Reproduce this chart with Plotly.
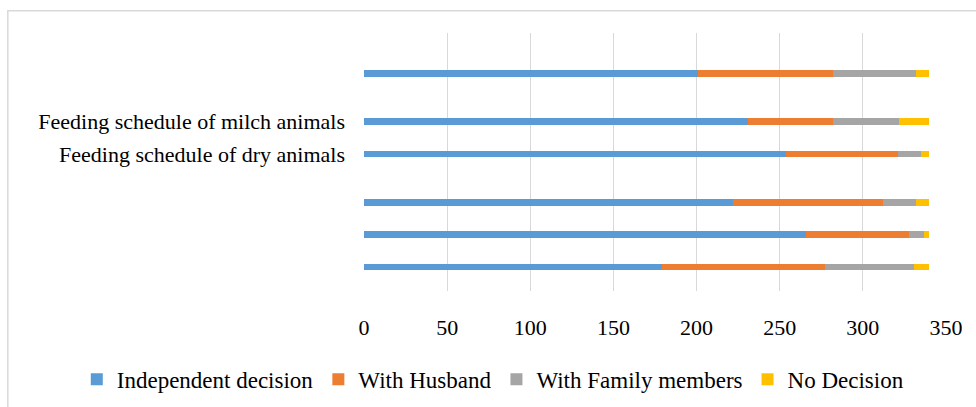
import plotly.graph_objects as go

# Rows from bottom to top, as in the source sheet (blank rows kept as None)
row_ids = [f"r{i}" for i in range(16)]
row_labels = ["", "", "", "", "", "", "", "", "Feeding schedule of dry animals", "",
              "Feeding schedule of milch animals", "", "", "", "", ""]
independent = [None, 179, None, 266, None, 222, None, None, 254, None, 231, None, None, 201, None, None]
with_husband = [None, 98, None, 62, None, 90, None, None, 67, None, 51, None, None, 81, None, None]
with_family = [None, 54, None, 9, None, 20, None, None, 14, None, 40, None, None, 50, None, None]
no_decision = [None, 9, None, 3, None, 8, None, None, 5, None, 18, None, None, 8, None, None]

series = [
    ("Independent decision", independent, "#5B9BD5"),
    ("With Husband", with_husband, "#ED7D31"),
    ("With Family members", with_family, "#A5A5A5"),
    ("No Decision", no_decision, "#FFC000"),
]
x_ticks = [0, 50, 100, 150, 200, 250, 300, 350]

font_family = "Liberation Serif, Times New Roman, serif"

fig = go.Figure()
for name, vals, color in series:
    fig.add_trace(go.Bar(
        y=row_ids, x=vals, name=name, orientation="h",
        marker=dict(color=color, line=dict(width=0)),
        width=0.4,
    ))

fig.update_layout(
    barmode="stack",
    width=976, height=407,
    margin=dict(l=364, r=29.5, t=32.5, b=115.5, autoexpand=False),
    paper_bgcolor="white", plot_bgcolor="white",
    font=dict(family=font_family, size=22, color="#000000"),
    showlegend=True,
    legend=dict(orientation="h", xref="paper", yref="paper",
                x=-0.4935, xanchor="left", y=-0.342, yanchor="middle",
                font=dict(family=font_family, size=23, color="#000000"),
                traceorder="normal", bgcolor="rgba(0,0,0,0)"),
    xaxis=dict(range=[0, 350], tickvals=x_ticks, ticktext=[str(v) for v in x_ticks],
               showgrid=True, gridcolor="#D9D9D9", gridwidth=1,
               zeroline=False, showline=False, ticks="",
               ticklabelstandoff=21),
    yaxis=dict(type="category", categoryorder="array", categoryarray=row_ids,
               tickvals=row_ids, ticktext=row_labels,
               showgrid=False, zeroline=False, showline=False, ticks="",
               ticklabelstandoff=18),
    shapes=[dict(type="rect", xref="paper", yref="paper",
                 x0=-0.612, x1=1.06, y0=-0.46, y1=1.0865,
                 line=dict(color="#D9D9D9", width=1.5), fillcolor="rgba(0,0,0,0)",
                 layer="below")],
)

fig.write_html("out.html")
